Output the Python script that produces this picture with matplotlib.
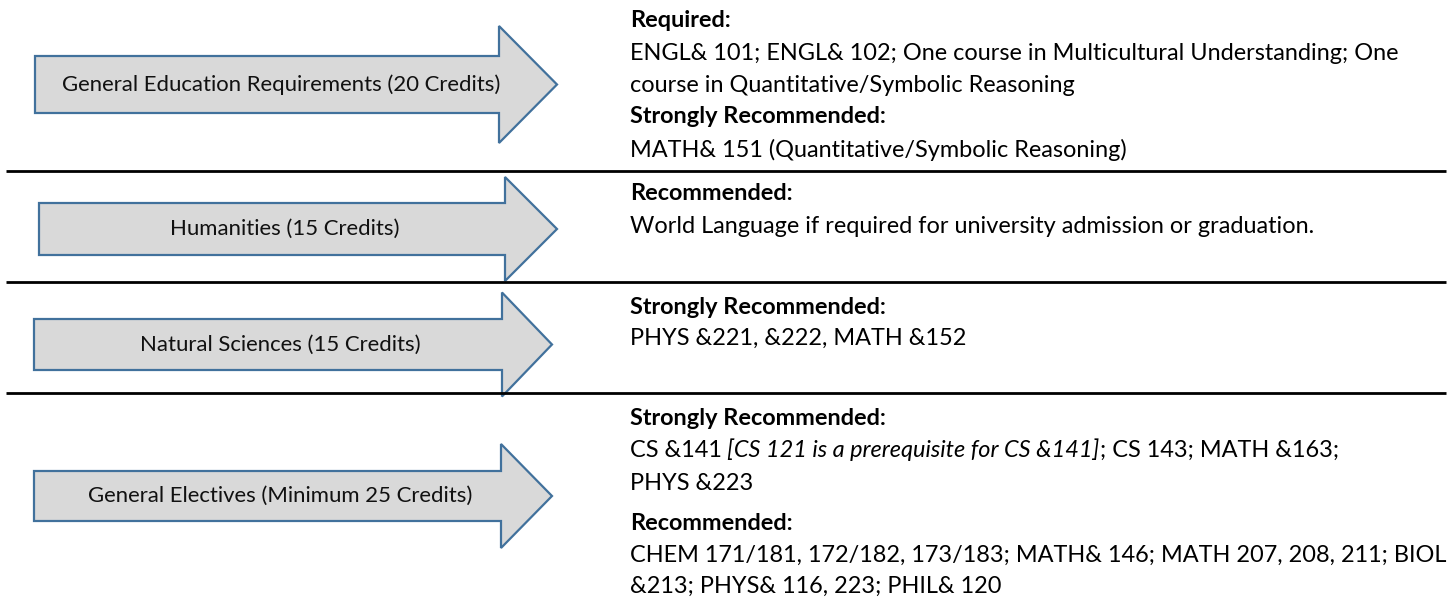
import matplotlib.pyplot as plt
from matplotlib.patches import Polygon

plt.rcParams['font.family'] = ['Lato', 'DejaVu Sans']

# arrow labels (left column)
arrow_labels = [
    "General Education Requirements (20 Credits)",
    "Humanities (15 Credits)",
    "Natural Sciences (15 Credits)",
    "General Electives (Minimum 25 Credits)",
]

# right column text, one list of lines per row; each line is a list of (text, style)
sec_gen_ed = [
    [("Required:", "bold")],
    [("ENGL& 101; ENGL& 102; One course in Multicultural Understanding; One", "normal")],
    [("course in Quantitative/Symbolic Reasoning", "normal")],
    [("Strongly Recommended:", "bold")],
    [("MATH& 151 (Quantitative/Symbolic Reasoning)", "normal")],
]
sec_hum = [
    [("Recommended:", "bold")],
    [("World Language if required for university admission or graduation.", "normal")],
]
sec_nat = [
    [("Strongly Recommended:", "bold")],
    [("PHYS &221, &222, MATH &152", "normal")],
]
sec_elec = [
    [("Strongly Recommended:", "bold")],
    [("CS &141", "normal"), (" [CS 121 is a prerequisite for CS &141]", "italic"),
     ("; CS 143; MATH &163;", "normal")],
    [("PHYS &223", "normal")],
    [("Recommended:", "bold")],
    [("CHEM 171/181, 172/182, 173/183; MATH& 146; MATH 207, 208, 211; BIOL", "normal")],
    [("&213; PHYS& 116, 223; PHIL& 120", "normal")],
]
sections = [sec_gen_ed, sec_hum, sec_nat, sec_elec]

# layout (pixel units, y downwards)
W, H = 1449, 603
center_y = [84.5, 229, 344.5, 496]
body_left = [35, 39, 34, 34]
head_base = [499, 505, 502, 501]
tip_x = [557, 557, 552, 552]
body_half = [28.5, 26, 25.5, 25]
head_half = [58.5, 52, 52, 52]
label_x = [281, 285, 280, 280]
sep_y = [171, 282, 393]
text_x = 630
baselines = [
    [27, 60, 92, 123, 157],
    [200, 233],
    [314, 345],
    [425, 457, 490, 530, 562, 593],
]

body_fs = 16.9
label_fs = 15.9

fig = plt.figure(figsize=(W / 100, H / 100), dpi=100)
ax = fig.add_axes([0, 0, 1, 1])
ax.set_xlim(0, W)
ax.set_ylim(H, 0)
ax.axis('off')

# arrows
for i, lab in enumerate(arrow_labels):
    cy = center_y[i]
    pts = [
        (body_left[i], cy - body_half[i]),
        (head_base[i], cy - body_half[i]),
        (head_base[i], cy - head_half[i]),
        (tip_x[i], cy),
        (head_base[i], cy + head_half[i]),
        (head_base[i], cy + body_half[i]),
        (body_left[i], cy + body_half[i]),
    ]
    ax.add_patch(Polygon(pts, closed=True, facecolor='#D9D9D9',
                         edgecolor='#41719C', linewidth=1.6, joinstyle='miter'))
    ax.text(label_x[i], cy, lab, ha='center', va='center',
            fontsize=label_fs, color='#111111')

# separator lines
for y in sep_y:
    ax.plot([6, 1446], [y, y], color='black', linewidth=2.0,
            solid_capstyle='butt')

# right column text
space_pts = 0.23 * body_fs
for sec, ys in zip(sections, baselines):
    for line, y in zip(sec, ys):
        prev = None
        for txt, style in line:
            kw = dict(fontsize=body_fs, color='black', va='baseline', ha='left',
                      fontweight='bold' if style == 'bold' else 'normal',
                      fontstyle='italic' if style == 'italic' else 'normal')
            if prev is None:
                prev = ax.text(text_x, y, txt, **kw)
            else:
                lead = len(txt) - len(txt.lstrip(' '))
                prev = ax.annotate(txt.lstrip(' '), xy=(1, y),
                                   xycoords=(prev, 'data'),
                                   xytext=(lead * space_pts, 0),
                                   textcoords='offset points', **kw)

fig.savefig('out.png', dpi=100)
